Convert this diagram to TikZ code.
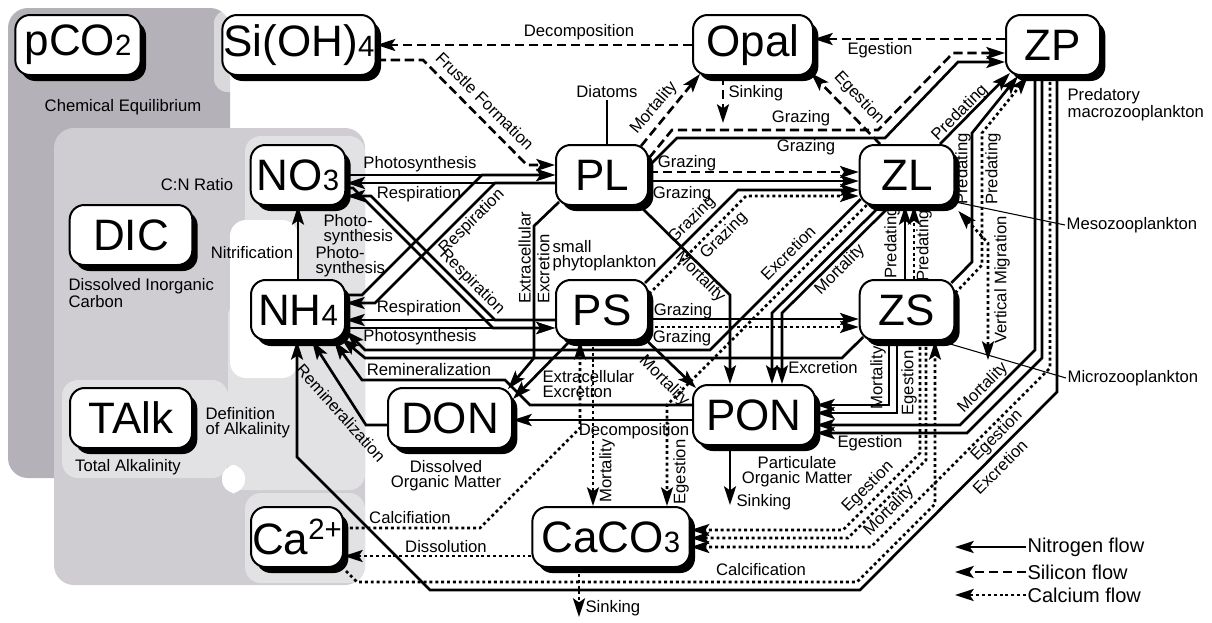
\documentclass[tikz,border=0pt]{standalone}
\usepackage{fontspec}
\setmainfont{Liberation Sans}
\usetikzlibrary{arrows.meta,calc,shadows}

\definecolor{regdark}{RGB}{180,177,184}
\definecolor{regmid}{RGB}{207,205,210}
\definecolor{reglight}{RGB}{226,225,228}

\newcommand{\chemsub}[1]{{\fontsize{22}{22}\selectfont #1}}
\newcommand{\chemsup}[1]{\raisebox{11pt}{\fontsize{22}{22}\selectfont #1}}

\tikzset{
  >={Stealth[length=14pt,width=9pt,inset=3pt]},
  pool/.style={draw, line width=1.5pt, fill=white, rounded corners=11pt, minimum height=45pt, inner sep=0pt,
    font=\fontsize{33}{33}\selectfont, drop shadow={shadow xshift=4pt, shadow yshift=-4.5pt, fill=black, opacity=1}},
  lbl/.style={font=\fontsize{12.5}{11.5}\selectfont, inner sep=1pt},
  leg/.style={font=\fontsize{15}{15}\selectfont, inner sep=1pt, anchor=west},
  nflow/.style={line width=2pt, ->},
  siflow/.style={nflow, dash pattern=on 7pt off 3.5pt},
  caflow/.style={nflow, dash pattern=on 2.2pt off 2.2pt},
  leader/.style={line width=0.8pt},
}

\begin{document}
\begin{tikzpicture}[x=0.75pt, y=-0.75pt]
\useasboundingbox (0,0) rectangle (1212,622);

\fill[regdark, rounded corners=15pt] (8,8) rectangle (230,478);
\fill[white, opacity=0.5, rounded corners=10pt] (214,10) rectangle (385,92);
\fill[regmid, rounded corners=15pt] (54,128) rectangle (365,585);
\fill[reglight, rounded corners=12pt] (245,136) rectangle (365,490);
\fill[reglight, rounded corners=12pt] (228,300) rectangle (365,490);
\fill[reglight, rounded corners=12pt] (62,380) rectangle (228,478);
\fill[white, rounded corners=12pt] (230,220) rectangle (298,378);
\fill[white, rounded corners=10pt] (222,465) rectangle (245,493);
\fill[reglight, rounded corners=12pt] (245,493) rectangle (365,583);

\node[pool, minimum width=94pt] (pCO2) at (78,45) {pCO\chemsub{2}};
\node[pool, minimum width=115pt] (SiOH4) at (299,45) {Si(OH)\chemsub{4}};
\node[pool, minimum width=90pt] (Opal) at (753,45) {Opal};
\node[pool, minimum width=70.5pt] (ZP) at (1053,45) {ZP};
\node[pool, minimum width=71pt] (NO3) at (298,175) {NO\chemsub{3}};
\node[pool, minimum width=69pt] (PL) at (602,175) {PL};
\node[pool, minimum width=71pt] (ZL) at (907,175) {ZL};
\node[pool, minimum width=92pt] (DIC) at (131,235) {DIC};
\node[pool, minimum width=70.5pt] (NH4) at (298,310) {NH\chemsub{4}};
\node[pool, minimum width=69pt] (PS) at (602,310) {PS};
\node[pool, minimum width=71pt] (ZS) at (907,310) {ZS};
\node[pool, minimum width=91.5pt] (TAlk) at (131,418) {TAlk};
\node[pool, minimum width=93pt] (DON) at (450,418) {DON};
\node[pool, minimum width=91.5pt] (PON) at (754,415) {PON};
\node[pool, minimum width=69pt] (Ca) at (297,537) {Ca\chemsup{2+}};
\node[pool, minimum width=118pt] (CaCO3) at (611,537) {CaCO\chemsub{3}};

\draw[siflow] (Opal.west |- 0,45) -- (SiOH4.east |- 0,45);
\draw[siflow] (SiOH4.east |- 0,60) -- (423,60) -- (527,165) -- (PL.west |- 0,165);
\draw[siflow] ($(PL.north east)+(-8,2)$) -- ($(Opal.south west)+(8,-2)$);
\draw[siflow] (Opal.south -| 723,0) -- (723,123) coordinate (opalSink);
\draw[siflow] (ZP.west |- 0,39) -- (Opal.east |- 0,39);
\draw[siflow] (ZL.north -| 880,0) -- ($(Opal.south east)+(-3,-3)$);
\draw[siflow] (PL.east |- 0,158) -- (672,130) -- (878,130) -- (953,53) -- (ZP.west |- 0,53);
\draw[siflow] (PL.east |- 0,172) -- (ZL.west |- 0,172);

\draw[nflow] (PL.east |- 0,166) -- (677,138) -- (885,138) -- (958,62) -- (ZP.west |- 0,62);
\draw[nflow] (PL.east |- 0,181) -- (ZL.west |- 0,181);
\draw[nflow] ($(PS.north east)+(-4,4)$) -- (738,190) -- (ZL.west |- 0,190);
\draw[nflow] (PS.east |- 0,319) -- (ZS.west |- 0,319);
\draw[nflow] (NO3.east |- 0,175) -- (PL.west |- 0,175);
\draw[nflow] (PL.west |- 0,183) -- (NO3.east |- 0,183);
\draw[nflow] (NH4.east |- 0,295) -- (362,295) -- (482,175) -- (PL.west |- 0,175);
\draw[nflow] (PL.west |- 0,183) -- (495,183) -- (375,303) -- (NH4.east |- 0,303);
\draw[nflow] (NO3.east |- 0,188) -- (353,188) -- (493,328) -- (PS.west |- 0,328);
\draw[nflow] (PS.west |- 0,320) -- (495,320) -- (371,196) -- (NO3.east |- 0,196);
\draw[nflow] (PS.west |- 0,320) -- (NH4.east |- 0,320);
\draw[nflow] (NH4.east |- 0,328) -- (PS.west |- 0,328);
\draw[nflow] (NH4.north) -- (NO3.south);
\draw[nflow] ($(ZL.south west)+(2,-7)$) -- (710,350) -- (365,350) -- (NH4.east |- 0,331);
\draw[nflow] ($(ZS.south west)+(4.5,-4)$) -- (842,358) -- (365,358) -- ($(NH4.south east)+(-5,-3)$);
\draw[nflow] (PON.west |- 0,405) -- (530,405) -- (505,380) -- (362,380) -- ($(NH4.south east)+(-12,0)$);
\draw[nflow] (DON.west |- 0,425) -- (366,425) -- ($(NH4.south)+(14,0)$);
\draw[nflow] (ZP.south -| 1057,0) -- (1057,392) -- (860,590) -- (430,590) -- (297,457) -- (NH4.south -| 297,0);
\draw[nflow] (PL.south -| 640,0) -- (730,295) -- (PON.north -| 730,0);
\draw[nflow] ($(PS.south east)+(-5,-3)$) -- ($(PON.north west)+(4,4)$);
\draw[nflow] ($(PL.south west)+(4,-4)$) -- (534,226) -- (534,358) -- ($(DON.north east)+(-5,2)$);
\draw[nflow] (PS.south -| 570,0) -- (DON.east |- 0,399);
\draw[nflow] (PON.west |- 0,420) -- (DON.east |- 0,420);
\draw[nflow] (ZL.south -| 880,0) -- (772,313) -- (PON.north -| 772,0);
\draw[nflow] (ZL.south -| 890,0) -- (782,313) -- (PON.north -| 782,0);
\draw[nflow] (ZS.south -| 889,0) -- (889,405) -- (PON.east |- 0,405);
\draw[nflow] (ZS.south -| 897,0) -- (897,413) -- (PON.east |- 0,413);
\draw[nflow] (ZP.south -| 1035,0) -- (1035,350) -- (960,425) -- (PON.east |- 0,425);
\draw[nflow] (ZP.south -| 1042,0) -- (1042,358) -- (967,433) -- (PON.east |- 0,433);
\draw[nflow] (ZS.north -| 905,0) -- (ZL.south -| 905,0);
\draw[nflow] (ZL.north -| 940,0) -- ($(ZP.south west)+(5,-3)$);
\draw[nflow] ($(ZS.north east)+(-4,4)$) -- (972,262) -- (972,133) -- (ZP.south -| 1018,0);
\draw[nflow] (PON.south -| 730,0) -- (730,505) coordinate (ponSink);

\draw[caflow] (PS.east |- 0,294) -- (746,196) -- (ZL.west |- 0,196);
\draw[caflow] (PS.east |- 0,327) -- (ZS.west |- 0,327);
\draw[caflow] (ZS.north -| 914,0) -- (ZL.south -| 914,0);
\draw[caflow] (ZS.east |- 0,293) -- (982,265) -- (982,133) -- (ZP.south -| 1028,0);
\draw[caflow, <->] ($(ZL.south east)+(3,5)$) -- (988,243) -- (988,360) coordinate (vmigEnd);
\draw[caflow] (Ca.east |- 0,528) -- (480,528) -- (580,428) -- (PS.south -| 580,0);
\draw[caflow] (PS.south -| 593,0) -- (CaCO3.north -| 593,0);
\draw[caflow] ($(ZL.south west)+(8,-1)$) -- (667,405) -- (CaCO3.north -| 667,0);
\draw[caflow] (CaCO3.west |- 0,556) -- (Ca.east |- 0,556);
\draw[caflow] ($(Ca.south east)+(2,3)$) -- (357,582) -- (857,582) -- (935,504) -- (ZS.south -| 935,0);
\draw[caflow] (ZS.south -| 920,0) -- (920,453) -- (843,530) -- (CaCO3.east |- 0,530);
\draw[caflow] (ZS.south -| 926,0) -- (926,460) -- (848,538) -- (CaCO3.east |- 0,538);
\draw[caflow] (ZP.south -| 1050,0) -- (1050,368) -- (871,547) -- (CaCO3.east |- 0,547);
\draw[caflow] (CaCO3.south -| 579,0) -- (579,617) coordinate (caco3Sink);

\node[lbl] (lblChem) at (123,107) {Chemical Equilibrium};
\node[lbl] (lblCN) at (197,185) {C:N Ratio};
\node[lbl, align=left, anchor=west] (lblDIC) at (67,293) {Dissolved Inorganic\\Carbon};
\node[lbl] (lblNitri) at (252,253) {Nitrification};
\node[lbl, align=left, anchor=west] (lblDefAlk) at (204,423) {Definition\\of Alkalinity};
\node[lbl] (lblTA) at (128,467) {Total Alkalinity};
\node[lbl] (lblDecTop) at (579,32) {Decomposition};
\node[lbl, rotate=-45] (lblFrustle) at (485,101) {Frustle Formation};
\node[lbl] (lblDiat) at (607,92) {Diatoms};
\node[lbl, rotate=50] (lblMortPLOpal) at (654,108) {Mortality};
\node[lbl, anchor=west] (lblSinkOpal) at (727,93) {Sinking};
\node[lbl] (lblEgZPOpal) at (880,50) {Egestion};
\node[lbl, rotate=-47] (lblEgZLOpal) at (859,98) {Egestion};
\node[lbl] (lblGrzPLZPsi) at (801,118) {Grazing};
\node[lbl] (lblGrzPLZPn) at (806,147) {Grazing};
\node[lbl, align=left, anchor=west] (lblMacro) at (1066,105) {Predatory\\macrozooplankton};
\node[lbl, rotate=45] (lblPredZLZP) at (960,113) {Predating};
\node[lbl, rotate=90] (lblPredZSZPn) at (963,169) {Predating};
\node[lbl, rotate=90] (lblPredZSZPca) at (993,169) {Predating};
\node[lbl] (lblPhotoNO3PL) at (420,164) {Photosynthesis};
\node[lbl] (lblRespPLNO3) at (419,194) {Respiration};
\node[lbl] (lblGrzPLZLsi) at (687,163) {Grazing};
\node[lbl] (lblGrzPLZLn) at (682,194) {Grazing};
\node[lbl, align=left, anchor=west] (lblPhotoA) at (322,230) {Photo-\\synthesis};
\node[lbl, align=left, anchor=west] (lblPhotoB) at (314,262) {Photo-\\synthesis};
\node[lbl, rotate=45] (lblRespUp) at (472,222) {Respiration};
\node[lbl, rotate=-45] (lblRespLow) at (472,282) {Respiration};
\node[lbl, rotate=90, align=left, font=\fontsize{12.5}{14.2}\selectfont] (lblExtraPL) at (534,258) {Extracellular\\Excretion};
\node[lbl, align=left, anchor=west] (lblSmall) at (551,256) {small\\phytoplankton};
\node[lbl, rotate=45] (lblGrzPSZLn) at (692,220) {Grazing};
\node[lbl, rotate=45] (lblGrzPSZLca) at (724,236) {Grazing};
\node[lbl, rotate=-45] (lblMortPLPON) at (700,277) {Mortality};
\node[lbl, rotate=45] (lblExcZL) at (788,253) {Excretion};
\node[lbl, rotate=45] (lblMortZL) at (840,270) {Mortality};
\node[lbl, rotate=90] (lblPredZSZLn) at (892,243) {Predating};
\node[lbl, rotate=90] (lblPredZSZLca) at (924,246) {Predating};
\node[lbl, anchor=west] (lblMeso) at (1065,225) {Mesozooplankton};
\node[lbl, rotate=90] (lblVMig) at (1002,280) {Vertical Migration};
\node[lbl] (lblRespPSNH4) at (419,308) {Respiration};
\node[lbl] (lblPhotoNH4PS) at (420,337) {Photosynthesis};
\node[lbl] (lblGrzPSZSn) at (683,311) {Grazing};
\node[lbl] (lblGrzPSZSca) at (682,338) {Grazing};
\node[lbl] (lblReminPON) at (429,370) {Remineralization};
\node[lbl] (lblExcZS) at (823,368) {Excretion};
\node[lbl, anchor=west] (lblMicro) at (1066,378) {Microzooplankton};
\node[lbl, align=left, anchor=west] (lblExtraPS) at (541,384) {Extracellular\\Excretion};
\node[lbl, rotate=-45] (lblMortPSPON) at (664,381) {Mortality};
\node[lbl, rotate=90] (lblMortZS) at (878,378) {Mortality};
\node[lbl, rotate=90] (lblEgZS) at (909,383) {Egestion};
\node[lbl, rotate=45] (lblMortZP) at (983,388) {Mortality};
\node[lbl, rotate=-48] (lblReminDON) at (341,413) {Remineralization};
\node[lbl] (lblDecomp) at (634,431) {Decomposition};
\node[lbl] (lblEgZPPON) at (870,443) {Egestion};
\node[lbl, align=center] (lblDON) at (446,476) {Dissolved\\Organic Matter};
\node[lbl, align=center] (lblPON) at (797,472) {Particulate\\Organic Matter};
\node[lbl, rotate=90] (lblMortPSCa) at (607,471) {Mortality};
\node[lbl, rotate=90] (lblEgZLCa) at (681,472) {Egestion};
\node[lbl, anchor=west] (lblSinkPON) at (735,502) {Sinking};
\node[lbl, rotate=45] (lblEgZSCa) at (868,487) {Egestion};
\node[lbl, rotate=45] (lblMortZSCa) at (889,511) {Mortality};
\node[lbl, rotate=45] (lblEgZPCa) at (997,436) {Egestion};
\node[lbl, rotate=45] (lblExcZP) at (1000,467) {Excretion};
\node[lbl] (lblCalcPS) at (410,518) {Calcifiation};
\node[lbl] (lblDiss) at (446,547) {Dissolution};
\node[lbl] (lblCalcZS) at (761,570) {Calcification};
\node[lbl, anchor=west] (lblSinkCa) at (584,608) {Sinking};

\draw[leader] (lblDiat.south) -- (lblDiat.south |- PL.north);
\draw[leader] ($(ZL.south east)+(0,-4)$) -- (lblMeso.west);
\draw[leader] (ZS.south -| 940,0) -- (lblMicro.west);

\node[leg] (legN) at (1026,547) {Nitrogen flow};
\node[leg] (legSi) at (1026,572) {Silicon flow};
\node[leg] (legCa) at (1026,595) {Calcium flow};
\draw[nflow] (legN.west) -- ++(-71,0);
\draw[siflow] (legSi.west) -- ++(-71,0);
\draw[caflow] (legCa.west) -- ++(-71,0);
\end{tikzpicture}
\end{document}
